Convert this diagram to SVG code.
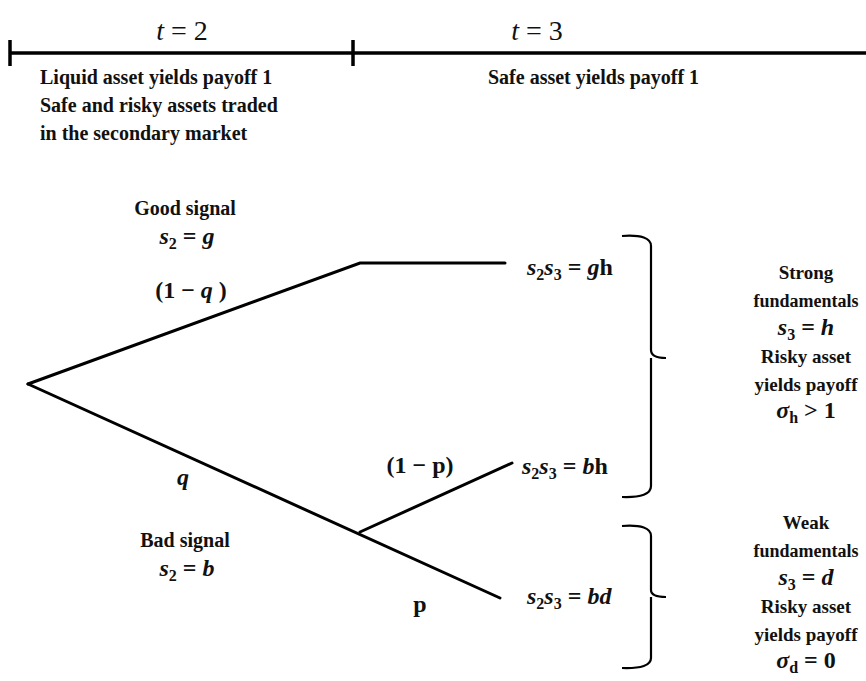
<svg xmlns="http://www.w3.org/2000/svg" width="866" height="681" viewBox="0 0 866 681">
<style>
.t{font-family:"Liberation Serif","Times New Roman",serif;font-weight:bold;font-size:20px;fill:#111}
.r{font-family:"Liberation Serif","Times New Roman",serif;font-weight:bold;font-size:19px;fill:#111}
.f{font-family:"Liberation Serif","Times New Roman",serif;font-weight:bold;font-size:18px;fill:#111}
.m{font-family:"Liberation Serif","Times New Roman",serif;font-weight:bold;font-style:italic;font-size:24px;fill:#111}
.up{font-style:normal}
.sub{font-size:16px;font-style:normal}
.h{font-family:"Liberation Serif","Times New Roman",serif;font-size:28px;fill:#111}
.ln{stroke:#000;stroke-width:3;fill:none;stroke-linecap:round}
.tl{stroke:#000;stroke-width:3.5;fill:none}
.br{stroke:#000;stroke-width:2.2;fill:none}
</style>
<g id="timeline">
<line class="tl" x1="10" y1="53" x2="866" y2="53"/>
<line class="tl" x1="10" y1="40" x2="10" y2="66"/>
<line class="tl" x1="353" y1="40" x2="353" y2="66"/>
<text class="h" x="182" y="40" text-anchor="middle"><tspan font-style="italic">t</tspan> = 2</text>
<text class="h" x="537" y="40" text-anchor="middle"><tspan font-style="italic">t</tspan> = 3</text>
<text class="t" x="40" y="84">Liquid  asset yields payoff 1</text>
<text class="t" x="40" y="112">Safe and risky assets traded</text>
<text class="t" x="40" y="140">in the secondary market</text>
<text class="t" x="488" y="84">Safe asset yields payoff 1</text>
</g>
<g id="connectors">
<polyline class="ln" points="28,384 360,263 505,263"/>
<line class="ln" x1="28" y1="384" x2="500" y2="598"/>
<line class="ln" x1="360" y1="532" x2="512" y2="463"/>
</g>
<g id="good">
<text class="t" x="185" y="215" text-anchor="middle">Good signal</text>
<text class="m" x="187" y="244" text-anchor="middle">s<tspan class="sub" dy="5">2</tspan><tspan dy="-5" class="up"> = </tspan>g</text>
<text class="m" x="191" y="298" text-anchor="middle"><tspan class="up">(1 − </tspan>q<tspan class="up"> )</tspan></text>
</g>
<g id="bad">
<text class="m" x="183" y="485" text-anchor="middle">q</text>
<text class="t" x="185" y="547" text-anchor="middle">Bad signal</text>
<text class="m" x="187" y="576" text-anchor="middle">s<tspan class="sub" dy="5">2</tspan><tspan dy="-5" class="up"> = </tspan>b</text>
<text class="m" x="420" y="473" text-anchor="middle"><tspan class="up">(1 − p)</tspan></text>
<text class="m" x="420" y="612" text-anchor="middle"><tspan class="up">p</tspan></text>
</g>
<g id="gh">
<text class="m" x="527" y="275">s<tspan class="sub" dy="5">2</tspan><tspan dy="-5">s</tspan><tspan class="sub" dy="5">3</tspan><tspan dy="-5" class="up"> = </tspan>g<tspan class="up">h</tspan></text>
</g>
<g id="bh">
<text class="m" x="522" y="474">s<tspan class="sub" dy="5">2</tspan><tspan dy="-5">s</tspan><tspan class="sub" dy="5">3</tspan><tspan dy="-5" class="up"> = </tspan>b<tspan class="up">h</tspan></text>
</g>
<g id="bd">
<text class="m" x="527" y="604">s<tspan class="sub" dy="5">2</tspan><tspan dy="-5">s</tspan><tspan class="sub" dy="5">3</tspan><tspan dy="-5" class="up"> = </tspan>bd</text>
</g>
<g id="strong">
<path class="br" d="M622,236 Q651,234 651,246 V350 Q651,358 666,358 M651,358 V486 Q651,498 622,497"/>
<text class="r" x="806" y="279" text-anchor="middle">Strong</text>
<text class="f" x="806" y="307" text-anchor="middle">fundamentals</text>
<text class="m" x="806" y="335" text-anchor="middle">s<tspan class="sub" dy="5">3</tspan><tspan dy="-5" class="up"> = </tspan>h</text>
<text class="r" x="806" y="363" text-anchor="middle">Risky asset</text>
<text class="r" x="806" y="391" text-anchor="middle">yields payoff</text>
<text class="m" x="806" y="418" text-anchor="middle">σ<tspan class="sub" font-style="italic" dy="5">h</tspan><tspan dy="-5" class="up"> &gt; 1</tspan></text>
</g>
<g id="weak">
<path class="br" d="M622,526 Q651,524 651,536 V590 Q651,597 666,597 M651,597 V658 Q651,669 622,668"/>
<text class="r" x="806" y="529" text-anchor="middle">Weak</text>
<text class="f" x="806" y="557" text-anchor="middle">fundamentals</text>
<text class="m" x="806" y="585" text-anchor="middle">s<tspan class="sub" dy="5">3</tspan><tspan dy="-5" class="up"> = </tspan>d</text>
<text class="r" x="806" y="613" text-anchor="middle">Risky asset</text>
<text class="r" x="806" y="641" text-anchor="middle">yields payoff</text>
<text class="m" x="806" y="668" text-anchor="middle">σ<tspan class="sub" font-style="italic" dy="5">d</tspan><tspan dy="-5" class="up"> = 0</tspan></text>
</g>
</svg>
